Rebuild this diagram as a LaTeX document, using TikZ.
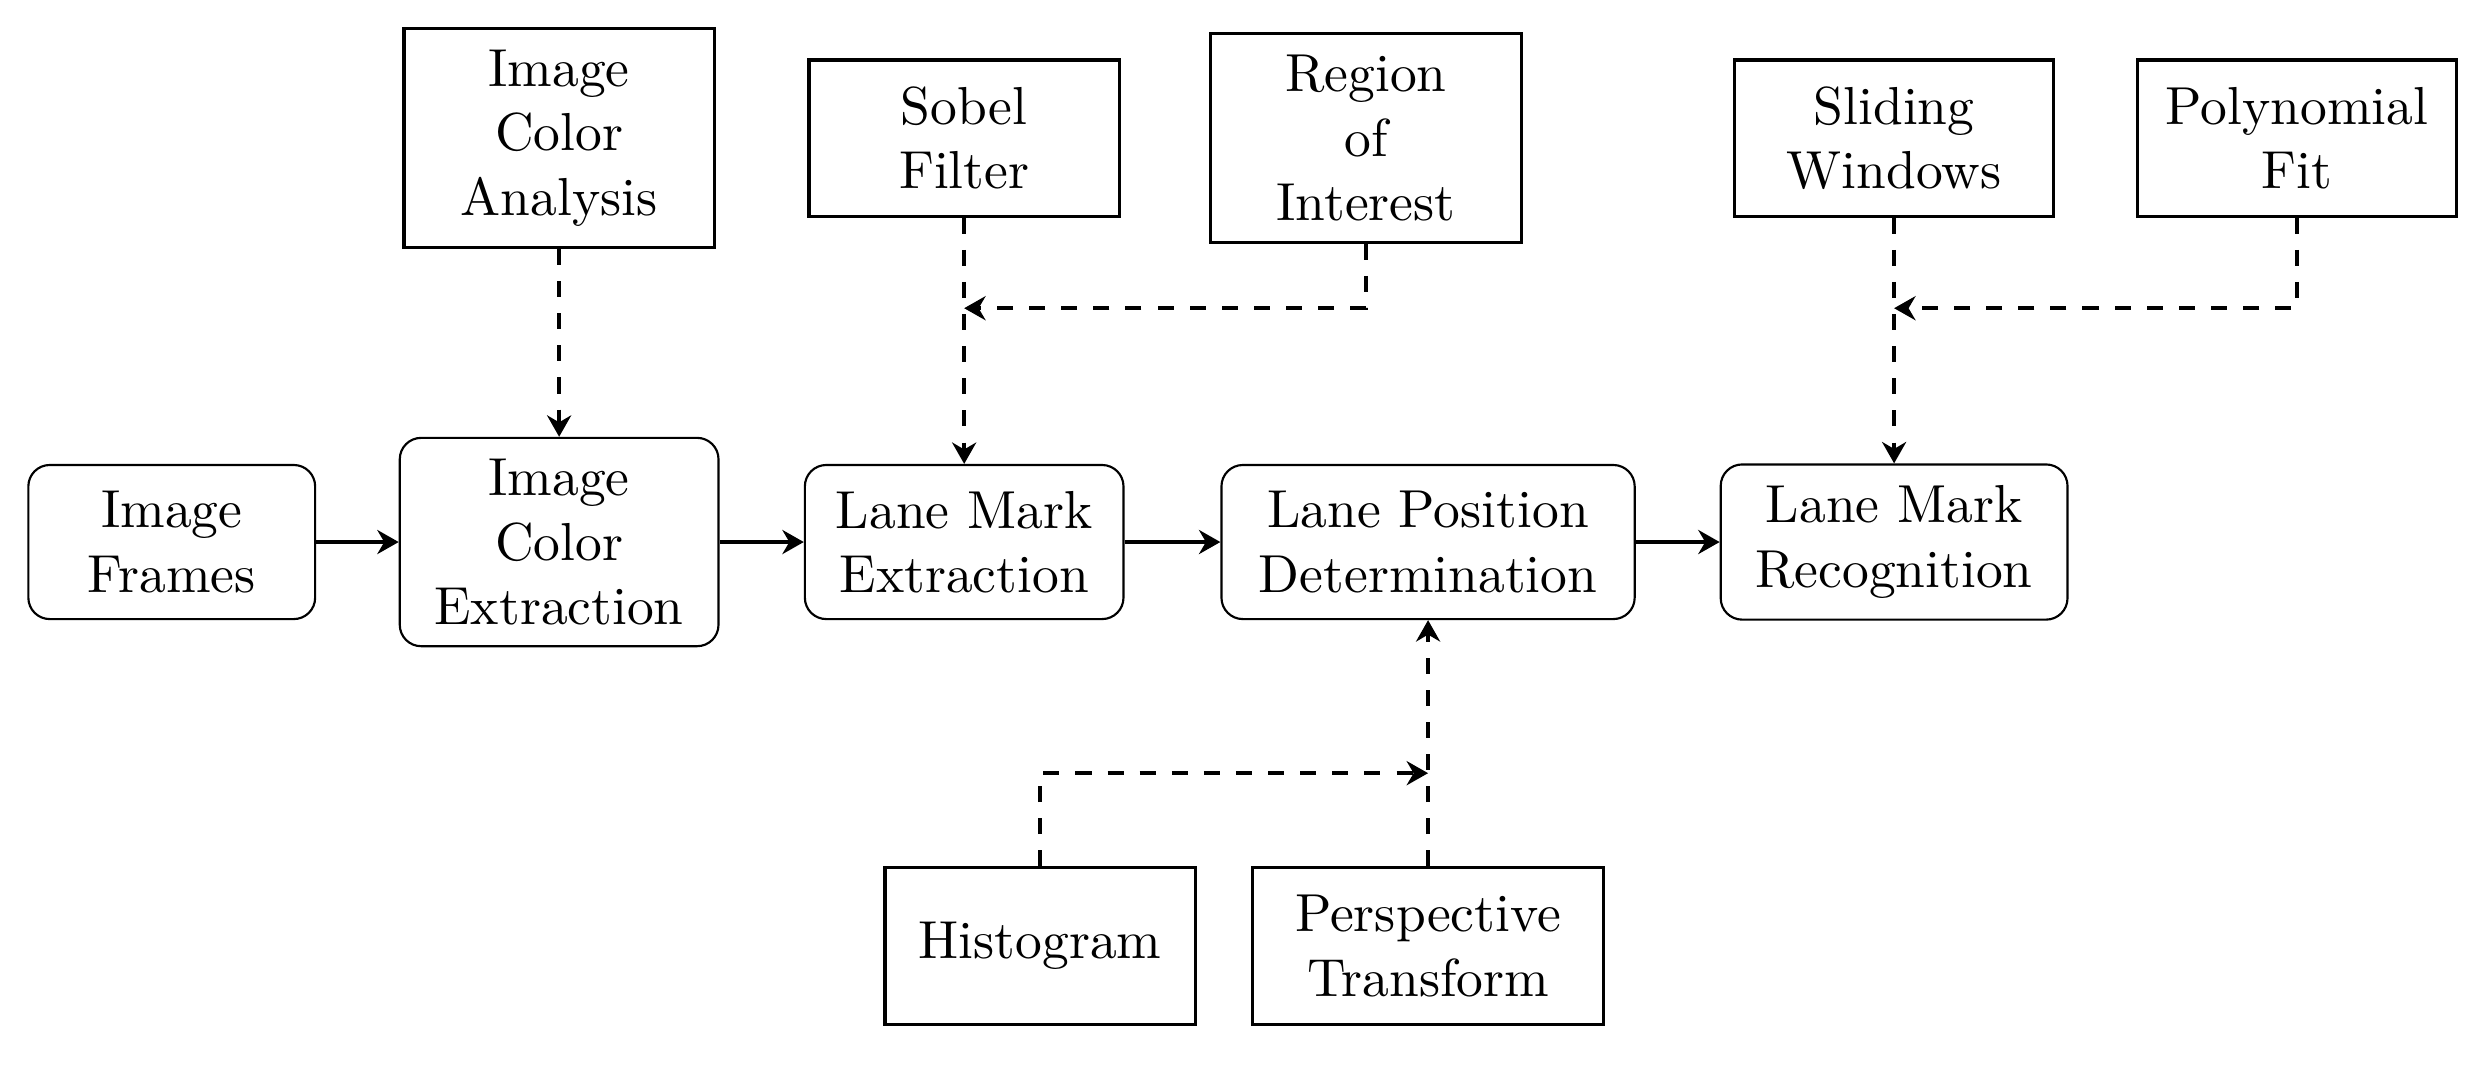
\documentclass[tikz,border=0pt]{standalone}
\usepackage{tikz}
\usetikzlibrary{arrows.meta}
\tikzset{>={Stealth[width=4.5pt,length=4pt]}}

\begin{document}
\begin{tikzpicture}[x=1pt, y=1pt,
  proc/.style={draw, rounded corners=4pt, align=center, minimum width=53.6pt,
    minimum height=28.8pt, inner xsep=6.5pt, inner ysep=4pt},
  tool/.style={draw, semithick, align=center, minimum width=58pt,
    minimum height=29.2pt, inner xsep=5pt, inner ysep=4pt},
  flow/.style={->, line width=0.9pt},
  aux/.style={->, thick, dashed}]

  \newcommand\RowA{-25.8};
  \newcommand\RowB{-101.3};
  \newcommand\RowC{-176.8};

  \useasboundingbox (0,0) rectangle (465,-198.9);

  % main pipeline
  \node[proc] (frames) at (32.1,\RowB) {Image\\Frames};
  \node[proc] (colext) at (104.5,\RowB) {Image\\Color\\Extraction};
  \node[proc, inner xsep=5.8pt] (lmext) at (180.2,\RowB) {Lane Mark\\Extraction};
  \node[proc, inner xsep=7pt] (lpdet) at (266.9,\RowB) {Lane Position\\Determination};
  \node[proc] (lmrec) at (354.0,\RowB) {Lane Mark\\Recognition};

  % helper steps
  \node[tool] (analysis) at (104.5,\RowA) {Image\\Color\\Analysis};
  \node[tool] (sobel) at (180.2,\RowA) {Sobel\\Filter};
  \node[tool] (roi) at (255.3,\RowA) {Region\\of\\Interest};
  \node[tool, minimum width=59.6pt] (sliding) at (354.0,\RowA) {Sliding\\Windows};
  \node[tool, minimum width=59.6pt] (poly) at (429.3,\RowA) {Polynomial\\Fit};
  \node[tool] (hist) at (194.4,\RowC) {Histogram};
  \node[tool, minimum width=65.6pt] (persp) at (266.9,\RowC) {Perspective\\Transform};

  \coordinate (sobelJ) at (sobel |- 0,-57.6);
  \coordinate (slidingJ) at (sliding |- 0,-57.6);
  \coordinate (perspJ) at (persp |- 0,-144.5);

  \draw[flow] (frames) -- (colext); %% frames->colext
  \draw[flow] (colext) -- (lmext);
  \draw[flow] (lmext) -- (lpdet);
  \draw[flow] (lpdet) -- (lmrec);

  \draw[aux] (analysis) -- (colext);
  \draw[aux] (sobel) -- (lmext);
  \draw[aux] (roi.south) |- (sobelJ); %% roi->sobel line
  \draw[aux] (sliding) -- (lmrec);
  \draw[aux] (poly.south) |- (slidingJ);
  \draw[aux] (persp) -- (lpdet);
  \draw[aux] (hist.north) |- (perspJ); %% hist->persp line

\end{tikzpicture}
\end{document}
